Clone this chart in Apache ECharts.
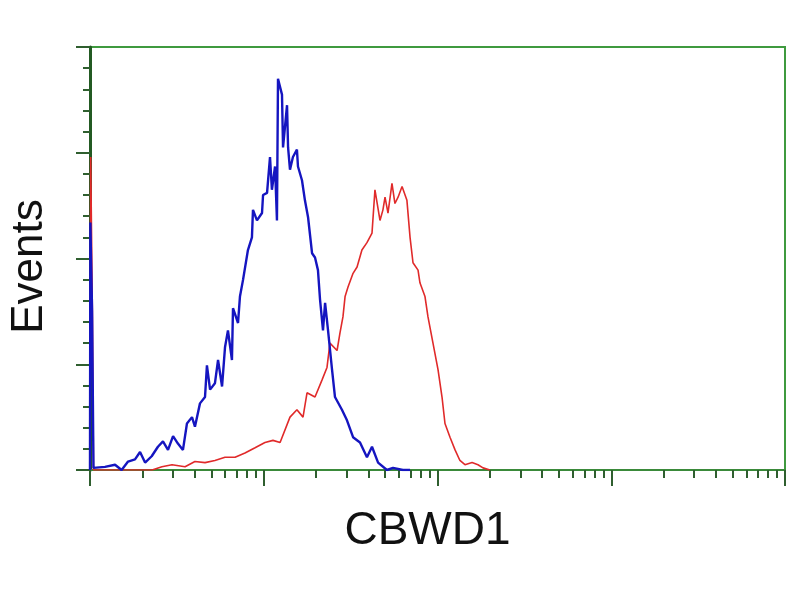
<!DOCTYPE html>
<html>
<head>
<meta charset="utf-8">
<script src="https://cdn.jsdelivr.net/npm/echarts@6/dist/echarts.min.js"></script>
<style>
  html, body { margin: 0; padding: 0; background: #fff; }
</style>
</head>
<body>
<div id="myCytoChart" style="width: 800px; height: 600px;"></div>
<script>
    // x values are decades (log10 of fluorescence), y values are event counts
    var majorTicks = [0, 1, 2, 3, 4];
    var minorTicks = [];
    for (var d = 0; d < 4; d++) {
        for (var m = 2; m <= 9; m++) {
            minorTicks.push(d + Math.log10(m));
        }
    }

    var blueData = [
        [0, 0], [0.002, 234], [0.012, 150], [0.02, 2], [0.086, 3], [0.144, 5], [0.182, 0],
        [0.219, 8], [0.259, 10], [0.288, 17], [0.317, 7], [0.355, 13], [0.391, 22],
        [0.420, 27], [0.449, 19], [0.478, 32], [0.506, 25], [0.535, 19], [0.558, 44],
        [0.587, 50], [0.604, 41], [0.633, 63], [0.662, 69], [0.673, 99], [0.691, 76],
        [0.719, 82], [0.737, 104], [0.760, 79], [0.777, 116], [0.794, 132], [0.817, 104],
        [0.823, 153], [0.852, 139], [0.863, 164], [0.881, 180], [0.909, 208], [0.932, 220],
        [0.938, 246], [0.961, 236], [0.990, 243], [0.996, 260], [1.019, 262], [1.036, 296],
        [1.047, 265], [1.065, 287], [1.076, 236], [1.082, 370], [1.105, 355], [1.111, 305],
        [1.134, 345], [1.140, 305], [1.151, 284], [1.168, 296], [1.191, 303], [1.197, 287],
        [1.220, 274], [1.237, 255], [1.255, 239], [1.278, 205], [1.295, 201], [1.312, 189],
        [1.324, 161], [1.341, 132], [1.353, 158], [1.370, 132], [1.393, 95], [1.410, 69],
        [1.450, 57], [1.479, 47], [1.514, 31], [1.554, 26], [1.594, 12], [1.623, 22],
        [1.658, 7], [1.709, 0], [1.744, 2], [1.801, 0], [1.842, 0]
    ];

    var redData = [
        [0, 0], [0.004, 296], [0.014, 145], [0.02, 0], [0.299, 0], [0.357, 0], [0.414, 3],
        [0.472, 5], [0.547, 3], [0.604, 8], [0.662, 7], [0.719, 9], [0.777, 12], [0.835, 12],
        [0.892, 16], [0.950, 21], [1.007, 26], [1.053, 28], [1.094, 26], [1.151, 50],
        [1.191, 57], [1.226, 50], [1.249, 73], [1.295, 69], [1.335, 85], [1.364, 97],
        [1.381, 120], [1.422, 113], [1.439, 130], [1.456, 145], [1.468, 164], [1.485, 173],
        [1.514, 186], [1.537, 192], [1.565, 208], [1.594, 215], [1.623, 224], [1.640, 265],
        [1.669, 236], [1.686, 246], [1.698, 258], [1.715, 243], [1.738, 271], [1.755, 252],
        [1.773, 258], [1.796, 268], [1.824, 255], [1.842, 220], [1.859, 196], [1.888, 189],
        [1.899, 177], [1.928, 164], [1.945, 145], [1.974, 120], [2.003, 95], [2.026, 69],
        [2.043, 44], [2.072, 31], [2.101, 19], [2.129, 9], [2.158, 5], [2.199, 7],
        [2.233, 5], [2.262, 2], [2.302, 0]
    ];

    var myCytoChart = echarts.init(document.getElementById('myCytoChart'));

    var option = {
        animation: false,
        backgroundColor: '#ffffff',
        grid: {
            left: 90,
            right: 15,
            top: 47,
            bottom: 130,
            outerBoundsMode: 'none',
            show: true,
            borderColor: '#3f9a3f',
            borderWidth: 2
        },
        xAxis: [
            {
                type: 'value',
                min: 0,
                max: 4,
                interval: 1,
                position: 'bottom',
                name: 'CBWD1',
                nameLocation: 'middle',
                nameGap: 38,
                nameTextStyle: {
                    fontFamily: 'Liberation Sans',
                    fontSize: 46,
                    color: '#111',
                    padding: [0, 20, 0, 0]
                },
                axisLine: { lineStyle: { color: '#3a8a3a', width: 2 } },
                axisTick: { customValues: majorTicks, length: 16, lineStyle: { color: '#2f5f2f', width: 2 } },
                axisLabel: { show: false },
                splitLine: { show: false }
            },
            {
                type: 'value',
                min: 0,
                max: 4,
                position: 'bottom',
                offset: 0,
                axisLine: { show: false },
                axisTick: { customValues: minorTicks, length: 8, lineStyle: { color: '#2f5f2f', width: 2 } },
                axisLabel: { show: false },
                splitLine: { show: false }
            }
        ],
        yAxis: {
            type: 'value',
            min: 0,
            max: 400,
            interval: 100,
            name: 'Events',
            nameLocation: 'middle',
            nameGap: 38,
            nameRotate: 90,
            nameTextStyle: {
                fontFamily: 'Liberation Sans',
                fontSize: 44,
                color: '#111',
                padding: [0, 16, 0, 0]
            },
            axisLine: { show: true, lineStyle: { color: '#235a23', width: 3 } },
            axisTick: { length: 14, lineStyle: { color: '#2f5f2f', width: 2 } },
            minorTick: { show: true, splitNumber: 5, length: 7, lineStyle: { color: '#2f5f2f', width: 2 } },
            axisLabel: { show: false },
            splitLine: { show: false }
        },
        series: [
            {
                name: 'control',
                type: 'line',
                data: redData,
                showSymbol: false,
                z: 2,
                lineStyle: { color: '#e02a2a', width: 1.6 }
            },
            {
                name: 'CBWD1',
                type: 'line',
                data: blueData,
                showSymbol: false,
                z: 3,
                lineStyle: { color: '#1515c0', width: 2.4 }
            }
        ]
    };

    myCytoChart.setOption(option);
</script>
</body>
</html>
